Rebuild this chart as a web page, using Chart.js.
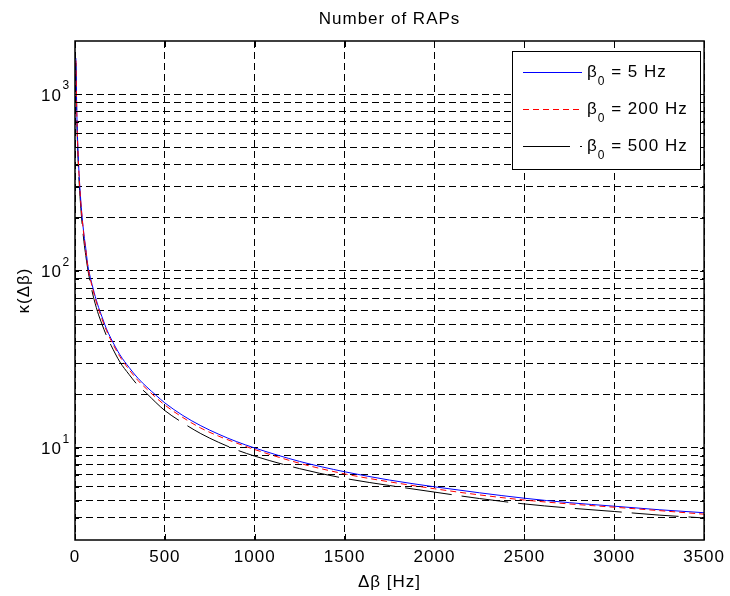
<!DOCTYPE html>
<html>
<head>
<meta charset="utf-8">
<title>Number of RAPs</title>
<script src="https://cdn.jsdelivr.net/npm/chart.js@4/dist/chart.umd.min.js"></script>
<style>
  html, body { margin: 0; padding: 0; background: #fff; }
  #wrap { width: 730px; height: 596px; }
</style>
</head>
<body>
<div id="wrap"><canvas id="raps"></canvas></div>
<script>
const deltaBeta = [5, 10, 15, 20, 30, 40, 50, 60, 70, 80, 100, 125, 150, 175, 200, 250, 300, 350, 400, 450,
    500, 600, 700, 800, 900, 1000, 1250, 1500, 1750, 2000, 2250, 2500, 2750, 3000, 3250, 3500];

// κ(Δβ) for the three values of β0
const kappa5 = [1600, 800, 530, 400, 268, 200, 160, 134, 110, 97, 80, 65, 55, 47, 41.5, 33.5, 28.5, 24.7, 22, 19.8,
    17.9, 15.2, 13.3, 11.9, 10.8, 9.95, 8.35, 7.3, 6.55, 6.0, 5.55, 5.17, 4.88, 4.66, 4.45, 4.28];
const kappa200 = [1550, 780, 520, 390, 262, 196, 157, 131, 108, 95, 78, 63.5, 53.5, 46, 40.5, 32.7, 27.7, 24, 21.4, 19.2,
    17.4, 14.8, 12.9, 11.6, 10.6, 9.75, 8.15, 7.1, 6.4, 5.85, 5.4, 5.05, 4.8, 4.6, 4.4, 4.2];
const kappa500 = [1500, 740, 490, 365, 245, 183, 146, 122, 104, 91, 73, 59, 50, 43, 38, 30.5, 26, 22.5, 20.2, 18,
    16.2, 13.8, 12.0, 10.7, 9.7, 8.95, 7.6, 6.7, 6.1, 5.6, 5.15, 4.8, 4.55, 4.35, 4.15, 4.0];

const seriesNames = ['5 Hz', '200 Hz', '500 Hz'];
const yLabelPowers = [1, 2, 3];
const xMin = 0, xMax = 3500, xStep = 500;
const yMin = 3, yMax = 2000;

const FONT = '"Liberation Sans", Arial, Helvetica, sans-serif';

const toPoints = (ys) => deltaBeta.map((x, i) => ({ x: x, y: ys[i] }));

// only 1..9 x 10^n inside the axis get a grid line, like MATLAB
const isDecadeStep = (v) => {
    if (v <= yMin || v >= yMax) return false;
    const m = v / Math.pow(10, Math.floor(Math.log10(v) + 1e-9));
    return Math.abs(m - Math.round(m)) < 1e-6;
};

// marco, textos y leyenda al estilo MATLAB
const matlabLook = {
    id: 'matlabLook',
    beforeDraw(chart) {
        chart.ctx.letterSpacing = '1px';
    },
    afterDraw(chart) {
        const c = chart.ctx;
        const { left, right, top, bottom } = chart.chartArea;
        const xs = chart.scales.x;
        const ys = chart.scales.y;
        c.save();
        c.letterSpacing = '1px';
        c.fillStyle = '#000';
        c.strokeStyle = '#000';

        // inward tick marks
        c.lineWidth = 1;
        c.beginPath();
        ys.ticks.filter(t => isDecadeStep(t.value)).forEach(t => {
            const py = Math.round(ys.getPixelForValue(t.value)) + 0.5;
            c.moveTo(left, py); c.lineTo(left + 4, py);
            c.moveTo(right, py); c.lineTo(right - 4, py);
        });
        xs.ticks.forEach(t => {
            const px = Math.round(xs.getPixelForValue(t.value)) + 0.5;
            c.moveTo(px, bottom); c.lineTo(px, bottom - 6);
            c.moveTo(px, top); c.lineTo(px, top + 6);
        });
        c.stroke();

        // frame
        c.lineWidth = 1.5;
        c.strokeRect(left, top, right - left, bottom - top);

        // y labels 10^n
        yLabelPowers.forEach(p => {
            const py = ys.getPixelForValue(Math.pow(10, p));
            c.font = '17px ' + FONT;
            c.textAlign = 'right';
            c.textBaseline = 'alphabetic';
            c.fillText('10', 62, py + 6.5);
            c.font = '12px ' + FONT;
            c.textAlign = 'left';
            c.fillText(String(p), 62.5, py - 5);
        });

        // title and axis titles
        c.font = '17px ' + FONT;
        c.textAlign = 'center';
        c.textBaseline = 'middle';
        c.fillText('Number of RAPs', (left + right) / 2, 19);
        c.fillText('Δβ [Hz]', (left + right) / 2, 582);
        c.save();
        c.translate(24, (top + bottom) / 2);
        c.rotate(-Math.PI / 2);
        c.fillText('κ(Δβ)', 0, 0);
        c.restore();

        // legend
        const bx = 512.5, by = 51.5, bw = 188, bh = 118;
        c.fillStyle = '#fff';
        c.fillRect(bx, by, bw, bh);
        c.lineWidth = 1;
        c.strokeRect(bx, by, bw, bh);
        chart.data.datasets.forEach((ds, i) => {
            const ly = 72.5 + i * 37;
            c.save();
            c.strokeStyle = ds.borderColor;
            c.lineWidth = 1;
            c.setLineDash(ds.borderDash || []);
            c.beginPath();
            c.moveTo(523, ly);
            c.lineTo(582, ly);
            c.stroke();
            c.restore();

            c.fillStyle = '#000';
            c.textAlign = 'left';
            c.textBaseline = 'alphabetic';
            let tx = 587;
            c.font = '17px ' + FONT;
            c.fillText('β', tx, ly + 4);
            tx += c.measureText('β').width;
            c.font = '12px ' + FONT;
            c.fillText('0', tx, ly + 12);
            tx += c.measureText('0').width;
            c.font = '17px ' + FONT;
            c.fillText(' = ' + seriesNames[i], tx, ly + 4);
        });
        c.restore();
    }
};

const container = document.getElementById('raps');

new Chart(container, {
    type: 'line',
    data: {
        datasets: [{
            label: 'β0 = ' + seriesNames[0],
            data: toPoints(kappa5),
            borderColor: '#0000ff',
            borderWidth: 1,
            order: 1
        }, {
            label: 'β0 = ' + seriesNames[1],
            data: toPoints(kappa200),
            borderColor: '#ff0000',
            borderWidth: 1,
            borderDash: [6, 4],
            order: 0
        }, {
            label: 'β0 = ' + seriesNames[2],
            data: toPoints(kappa500),
            borderColor: '#000000',
            borderWidth: 1,
            borderDash: [47, 10],
            order: 2
        }]
    },
    options: {
        responsive: true,
        maintainAspectRatio: false,
        animation: false,
        elements: {
            point: { radius: 0 },
            line: { cubicInterpolationMode: 'monotone' }
        },
        layout: { padding: { top: 41, right: 22, left: 0, bottom: 0 } },
        plugins: {
            legend: { display: false },
            title: { display: false },
            tooltip: { enabled: false }
        },
        scales: {
            x: {
                type: 'linear',
                min: xMin,
                max: xMax,
                afterFit: (scale) => { scale.height = 56; },
                ticks: {
                    stepSize: xStep,
                    color: '#000',
                    padding: 7,
                    maxRotation: 0,
                    font: { family: FONT, size: 17 },
                    callback: (v) => String(v)
                },
                grid: { color: '#000', lineWidth: 1, drawTicks: false },
                border: { display: false, dash: [7, 4] }
            },
            y: {
                type: 'logarithmic',
                min: yMin,
                max: yMax,
                afterFit: (scale) => { scale.width = 75; },
                ticks: { display: false, autoSkip: false },
                grid: {
                    color: (ctx) => (ctx.tick && isDecadeStep(ctx.tick.value)) ? '#000' : 'rgba(0,0,0,0)',
                    lineWidth: 1,
                    drawTicks: false
                },
                border: { display: false, dash: [7, 4] }
            }
        }
    },
    plugins: [matlabLook]
});
</script>
</body>
</html>
